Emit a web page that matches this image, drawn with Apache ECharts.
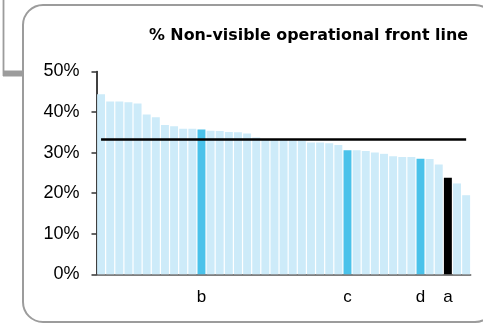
<!DOCTYPE html>
<html>
<head>
<meta charset="utf-8">
<script src="https://cdn.jsdelivr.net/npm/echarts@6/dist/echarts.min.js"></script>
<style>html,body{margin:0;padding:0;background:#fff;}#c{width:483px;height:324px;}</style>
</head>
<body>
<div id="c"></div>
<script>
var titleText = '% Non-visible operational front line';
var labels = ['', '', '', '', '', '', '', '', '', '', '', 'b', '', '', '', '', '', '', '', '', '',
  '', '', '', '', '', '', 'c', '', '', '', '', '', '', '', 'd', '', '', 'a', '', ''];
var values = [44.4, 42.6, 42.6, 42.4, 42.1, 39.4, 38.7, 36.8, 36.5, 35.9, 35.9, 35.7, 35.4, 35.3,
  35.1, 35.0, 34.7, 33.7, 33.2, 33.2, 33.1, 33.0, 32.9, 32.5, 32.5, 32.3, 31.9, 30.6, 30.6, 30.4,
  30.0, 29.7, 29.1, 28.9, 28.9, 28.5, 28.4, 27.1, 23.8, 22.4, 19.5];
var avgLine = 33.2;
var yTicks = [0, 10, 20, 30, 40, 50];

var LIGHT = '#cdebf9', BLUE = '#4ac2ea', BLACK = '#000000';
var barData = values.map(function (v, i) {
  var lab = labels[i];
  var col = lab === '' ? LIGHT : (lab === 'a' ? BLACK : BLUE);
  return { value: v, itemStyle: { color: col } };
});

var chart = echarts.init(document.getElementById('c'), null, { renderer: 'canvas' });
chart.setOption({
  animation: false,
  title: {
    text: titleText,
    right: 10,
    top: 23,
    textStyle: { fontFamily: 'DejaVu Sans', fontWeight: 'bold', fontSize: 15.9, color: '#000' }
  },
  graphic: [
    { type: 'rect', shape: { x: 23, y: 5, width: 472, height: 317, r: 20 },
      style: { fill: 'none', stroke: '#9c9c9c', lineWidth: 2 }, z: -1 },
    { type: 'line', shape: { x1: 3.5, y1: 0, x2: 3.5, y2: 76 },
      style: { stroke: '#9c9c9c', lineWidth: 1.8 }, z: -1 },
    { type: 'rect', shape: { x: 3, y: 70.5, width: 20, height: 6 },
      style: { fill: '#9c9c9c' }, z: -1 }
  ],
  grid: { left: 96.5, right: 12.3, top: 71.5, bottom: 49.7, containLabel: false },
  xAxis: {
    type: 'category',
    data: labels,
    axisLine: { show: true, lineStyle: { color: '#555', width: 1.5 } },
    axisTick: { show: false },
    axisLabel: { interval: 0, margin: 15, color: '#000', fontFamily: 'Liberation Sans', fontSize: 17 }
  },
  yAxis: {
    type: 'value',
    min: yTicks[0],
    max: yTicks[yTicks.length - 1],
    interval: 10,
    splitLine: { show: false },
    axisLine: { show: true, lineStyle: { color: '#000', width: 1.5 } },
    axisTick: { show: true, length: 5, lineStyle: { color: '#333', width: 1.5 } },
    axisLabel: { margin: 17, color: '#000', fontFamily: 'Liberation Sans', fontSize: 18,
      formatter: function (v) { return v + '%'; } }
  },
  series: [{
    type: 'bar',
    data: barData,
    barCategoryGap: '13%',
    markLine: {
      symbol: 'none',
      silent: true,
      label: { show: false },
      lineStyle: { color: '#000', width: 2.5, type: 'solid' },
      data: [[{ coord: [0, avgLine] }, { coord: [labels.length - 1, avgLine] }]]
    }
  }]
});
</script>
</body>
</html>
